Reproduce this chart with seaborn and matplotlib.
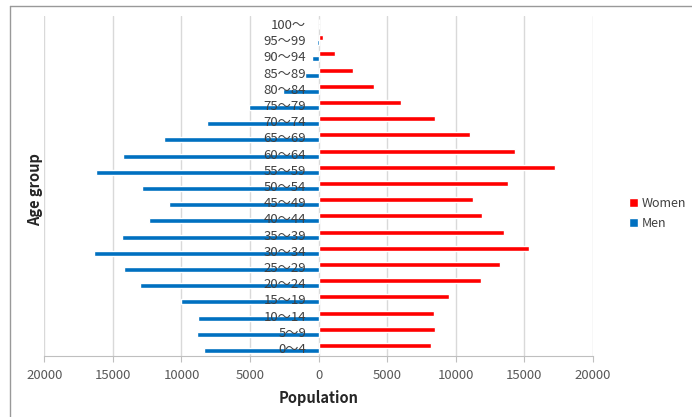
import pandas as pd
import numpy as np
import matplotlib.pyplot as plt
import seaborn as sns
from matplotlib.ticker import FuncFormatter

# Data, from youngest to oldest
ages = ['0～4', '5～9', '10～14', '15～19', '20～24', '25～29', '30～34',
        '35～39', '40～44', '45～49', '50～54', '55～59', '60～64', '65～69',
        '70～74', '75～79', '80～84', '85～89', '90～94', '95～99', '100～']
men = [8360, 8850, 8800, 10040, 13020, 14170, 16400, 14310, 12370, 10910,
       12860, 16250, 14260, 11300, 8120, 5060, 2580, 1000, 470, 100, 10]
women = [8210, 8450, 8380, 9470, 11840, 13190, 15300, 13510, 11880, 11220,
         13780, 17230, 14340, 11010, 8480, 6030, 4060, 2480, 1220, 320, 60]

# Long form, men plotted to the left
df = pd.DataFrame({
    'Age group': ages + ages,
    'Population': list(women) + [-v for v in men],
    'Sex': ['Women'] * len(ages) + ['Men'] * len(ages),
})

sns.set_theme(style='white')
plt.rcParams['font.family'] = ['Noto Sans CJK JP', 'DejaVu Sans']

fig, ax = plt.subplots(figsize=(6.92, 4.17), dpi=100)
fig.subplots_adjust(left=0.064, right=0.857, top=0.962, bottom=0.146)

sns.barplot(data=df, x='Population', y='Age group', hue='Sex',
            order=ages[::-1], hue_order=['Women', 'Men'],
            palette={'Women': '#FF0000', 'Men': '#0070C0'},
            orient='h', width=0.62, errorbar=None, saturation=1, ax=ax)

# x axis
ax.set_xlim(-20000, 20000)
ax.set_xticks(np.arange(-20000, 20001, 5000))
ax.xaxis.set_major_formatter(FuncFormatter(lambda v, p: f'{abs(int(v))}'))
ax.tick_params(axis='x', bottom=True, length=4, width=0.8, color='#BFBFBF',
               labelsize=9.5, labelcolor='#595959', pad=5)
ax.grid(axis='x', color='#D9D9D9', linewidth=1)
ax.grid(axis='y', visible=False)

# age labels sit next to the zero line
for s in ['top', 'right']:
    ax.spines[s].set_visible(False)
ax.spines['left'].set_position(('data', 0))
ax.spines['left'].set_visible(False)
ax.spines['bottom'].set_color('#BFBFBF')
ax.spines['bottom'].set_linewidth(0.8)
ax.tick_params(axis='y', left=False, length=0, labelsize=9.5,
               labelcolor='#404040', pad=9)
ax.yaxis.set_zorder(3)

ax.set_xlabel('Population', fontsize=10.5, fontweight='bold', color='#262626',
              labelpad=6)
ax.set_ylabel('')
fig.text(0.051, 0.545, 'Age group', rotation=90, ha='center', va='center',
         fontsize=10.5, fontweight='bold', color='#262626')

# legend
leg = ax.get_legend()
handles = leg.legend_handles
labels = [t.get_text() for t in leg.get_texts()]
ax.legend(handles, labels, loc='center left', bbox_to_anchor=(1.056, 0.42),
          frameon=False, handlelength=0.75, handleheight=0.75,
          handletextpad=0.25, labelspacing=0.55, fontsize=9,
          labelcolor='#404040', borderaxespad=0)

# chart border (cropped screenshot frame)
fig.add_artist(plt.Line2D([0.0145, 1.0], [0.9856, 0.9856], color='#999999',
                          linewidth=1, transform=fig.transFigure))
fig.add_artist(plt.Line2D([0.0145, 0.0145], [0.0, 0.9856], color='#999999',
                          linewidth=1, transform=fig.transFigure))

fig.savefig('out.png', dpi=100)
